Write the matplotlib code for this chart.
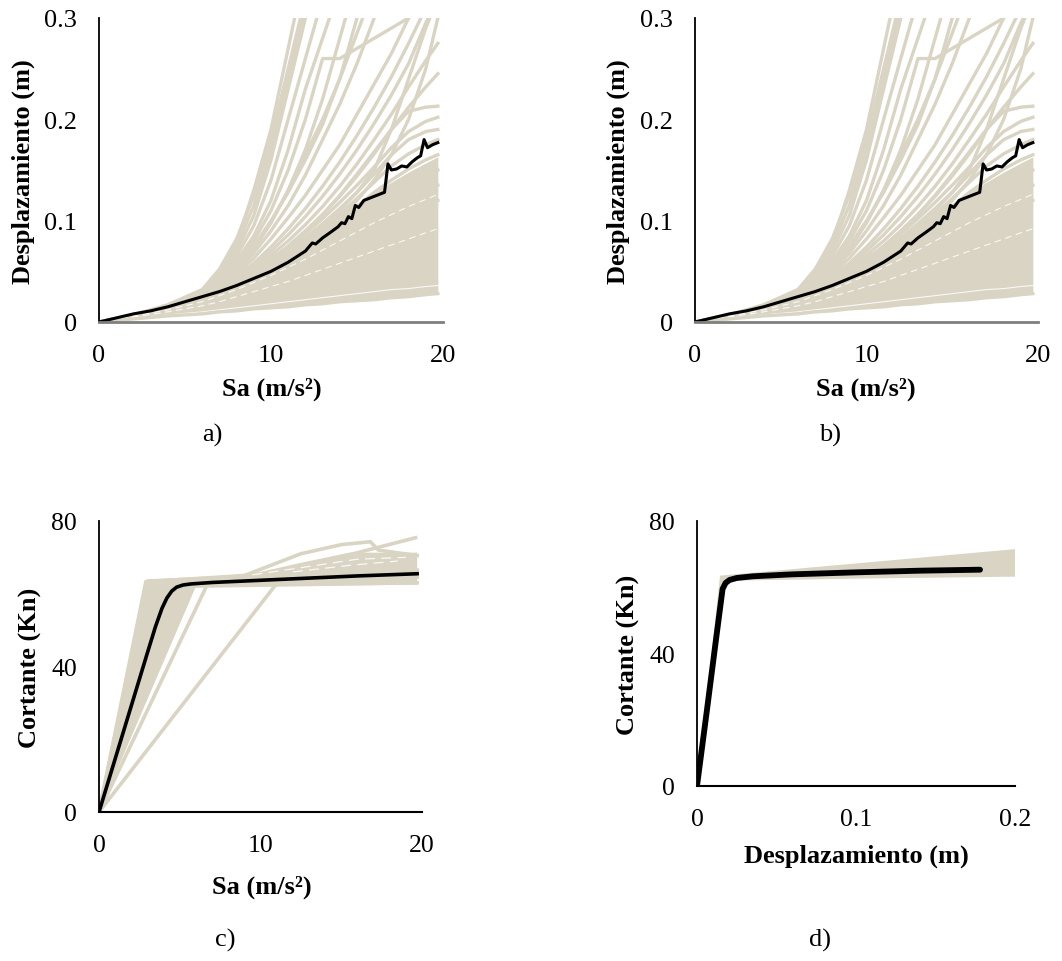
import matplotlib
matplotlib.use("Agg")
import matplotlib.pyplot as plt

plt.rcParams['font.family'] = ['Liberation Serif', 'DejaVu Serif']

BEIGE = '#D9D4C3'

# ---------------- Panels a) and b): Displacement vs Sa ----------------
sa_grid = [0, 2, 4, 6, 7, 8, 9, 10, 11, 12, 13, 14, 15, 16, 17, 18, 19, 19.7]

band_lo = [0, .003, .006, .008, .010, .011, .013, .014, .015, .017, .018, .020, .021, .022, .024, .025, .027, .028]
band_hi = [0, .008, .018, .032, .041, .050, .058, .066, .075, .085, .095, .106, .117, .128, .138, .148, .157, .163]

disp_curves = [
    [0, .007, .016, .030, .050, .078, .130, .190, .270, .350, .420, .500, .550, .600, .650, .700, .750, .800],
    [0, .007, .017, .032, .052, .082, .125, .180, .250, .320, .400, .480, .550, .600, .650, .700, .750, .800],
    [0, .006, .015, .030, .048, .075, .115, .170, .240, .310, .390, .460, .520, .600, .650, .700, .750, .800],
    [0, .006, .015, .028, .045, .070, .105, .160, .230, .300, .380, .450, .520, .600, .650, .700, .750, .800],
    [0, .006, .014, .027, .042, .065, .095, .140, .200, .260, .320, .400, .480, .550, .600, .650, .700, .750],
    [0, .006, .014, .026, .040, .060, .085, .120, .170, .230, .280, .330, .400, .450, .500, .550, .600, .650],
    [0, .006, .013, .025, .038, .056, .080, .110, .150, .200, .260, .260, .270, .280, .290, .300, .320, .330],
    [0, .006, .013, .024, .036, .052, .072, .098, .130, .165, .200, .240, .285, .330, .380, .420, .460, .500],
    [0, .005, .012, .022, .034, .050, .068, .090, .115, .145, .180, .215, .255, .300, .350, .400, .450, .500],
    [0, .005, .012, .022, .033, .047, .063, .082, .103, .125, .150, .175, .205, .235, .265, .300, .340, .360],
    [0, .005, .011, .021, .031, .044, .058, .074, .092, .112, .134, .158, .184, .212, .242, .275, .310, .330],
    [0, .005, .011, .020, .030, .042, .055, .070, .086, .104, .124, .146, .170, .196, .224, .255, .295, .320],
    [0, .005, .011, .020, .030, .041, .053, .066, .080, .096, .114, .134, .156, .180, .205, .232, .258, .275],
    [0, .005, .010, .019, .028, .039, .050, .062, .075, .090, .106, .124, .144, .166, .190, .212, .232, .245],
    [0, .005, .010, .019, .028, .038, .049, .061, .074, .089, .106, .125, .146, .168, .190, .208, .212, .213],
    [0, .005, .010, .018, .027, .037, .048, .060, .073, .087, .102, .118, .135, .153, .172, .188, .198, .202],
    [0, .005, .010, .018, .027, .037, .047, .058, .070, .083, .097, .112, .128, .146, .165, .180, .188, .190],
    [0, .005, .010, .018, .026, .035, .045, .056, .067, .079, .092, .106, .122, .138, .154, .166, .175, .180],
    [0, .005, .010, .018, .026, .035, .045, .056, .068, .081, .095, .110, .128, .150, .190, .240, .290, .320],
    [0, .005, .010, .017, .025, .034, .043, .053, .064, .076, .089, .103, .120, .140, .165, .200, .250, .300],
    [0, .006, .013, .024, .036, .052, .072, .098, .130, .170, .220, .280, .340, .400, .450, .500, .550, .600],
    [0, .006, .013, .024, .037, .054, .075, .100, .128, .160, .195, .240, .300, .350, .400, .450, .500, .550],
    [0, .004, .009, .016, .023, .031, .040, .050, .061, .073, .086, .100, .114, .128, .140, .151, .160, .165],
    [0, .004, .009, .016, .023, .031, .040, .049, .059, .070, .081, .093, .105, .117, .128, .138, .146, .150],
    [0, .004, .008, .015, .021, .028, .036, .045, .054, .064, .075, .086, .097, .108, .118, .127, .132, .135],
    [0, .004, .008, .014, .020, .026, .033, .041, .049, .058, .067, .077, .087, .097, .106, .113, .118, .120],
]

# thin light gaps visible between overlapping curves inside the dense band
gap_curves = [
    [0, .004, .007, .010, .012, .014, .016, .018, .020, .022, .024, .026, .028, .030, .032, .033, .035, .036],
    [0, .005, .010, .016, .020, .025, .030, .035, .040, .046, .052, .058, .064, .070, .076, .082, .088, .092],
    [0, .006, .012, .020, .026, .032, .039, .046, .054, .062, .071, .080, .089, .098, .106, .114, .121, .126],
]

mean_sa = [0, 1, 2, 3, 4, 5, 6, 7, 8, 9, 10, 11, 12, 12.4, 12.6, 13, 13.5, 13.9, 14.1, 14.3, 14.5, 14.7,
           14.9, 15.1, 15.4, 15.7, 16.0, 16.3, 16.6, 16.8, 17.0, 17.3, 17.6, 17.9, 18.2, 18.5, 18.7, 18.9,
           19.1, 19.4, 19.7]
mean_d = [0, .004, .008, .011, .015, .020, .025, .030, .036, .043, .050, .059, .070, .078, .077, .083, .089,
          .094, .098, .097, .104, .102, .115, .113, .120, .122, .124, .126, .128, .156, .150, .151, .154, .153,
          .158, .162, .164, .180, .172, .175, .177]

# ---------------- Panel c): Shear vs Sa ----------------
c_band_sa = [0, 2.84, 5.0, 8.0, 10.0, 12.5, 15.5, 19.7, 19.7, 15.0, 10.0, 6.0, 0]
c_band_v = [0, 63.3, 64.0, 65.0, 66.0, 68.5, 71.3, 71.3, 62.5, 62.3, 62.2, 62.0, 0]

c_lines_sa = [
    [0, 6.7, 19.7],
    [0, 11.0, 19.7],
    [0, 2.9, 9.0, 12.5, 15.0, 16.8, 17.3, 19.7],
    [0, 3.0, 10.5, 19.6],
    [0, 4.5, 19.7],
]
c_lines_v = [
    [0, 62.5, 66.5],
    [0, 62.8, 64.5],
    [0, 63.3, 65.0, 71.0, 73.5, 74.3, 72.0, 70.5],
    [0, 63.5, 65.0, 75.4],
    [0, 62.0, 63.0],
]
c_gap_sa = [[9.5, 13.0, 16.0, 19.0], [12.0, 15.5, 18.5]]
c_gap_v = [[65.2, 67.5, 69.5, 70.0], [66.0, 67.8, 69.0]]

c_mean_sa = [0, 1, 2, 3, 3.5, 3.9, 4.2, 4.5, 4.8, 5.2, 5.7, 7, 10, 13, 16, 19.7]
c_mean_v = [0, 14.6, 29.2, 43.8, 51, 56, 58.8, 60.7, 61.8, 62.4, 62.7, 63.1, 63.7, 64.3, 64.9, 65.5]

# ---------------- Panel d): Shear vs Displacement ----------------
d_band_x = [0, 0.0145, 0.2, 0.2, 0.1, 0.022, 0.0165, 0]
d_band_v = [0, 63.5, 71.5, 63.2, 62.6, 62.0, 59.5, 0]

d_mean_x = [0, 0.006, 0.012, 0.0161, 0.018, 0.0205, 0.025, 0.035, 0.06, 0.1, 0.14, 0.178]
d_mean_v = [0, 22, 44.4, 59.5, 61.3, 62.2, 62.8, 63.3, 63.9, 64.5, 65.0, 65.3]

W, H = 1062, 962
fig = plt.figure(figsize=(W / 100, H / 100), dpi=100)


def px_axes(x0, x1, ytop, ybot):
    return fig.add_axes([x0 / W, 1 - ybot / H, (x1 - x0) / W, (ybot - ytop) / H])


def style(ax, bottom_color='black', bottom_lw=1.5, fs=19):
    for s in ['top', 'right']:
        ax.spines[s].set_visible(False)
    ax.spines['left'].set_color('black')
    ax.spines['left'].set_linewidth(1.3)
    ax.spines['bottom'].set_color(bottom_color)
    ax.spines['bottom'].set_linewidth(bottom_lw)
    ax.tick_params(length=0, labelsize=fs)
    ax.tick_params(axis='y', pad=16)
    ax.tick_params(axis='x', pad=16)


def disp_panel(ax):
    ax.fill_between(sa_grid, band_lo, band_hi, color=BEIGE, lw=0)
    for c in disp_curves:
        ax.plot(sa_grid, c, color=BEIGE, lw=2.4, solid_joinstyle='round')
    for i, g in enumerate(gap_curves):
        ax.plot(sa_grid, g, color='white', lw=0.8, alpha=0.85,
                ls=(0, (6, 4)) if i else '-')
    ax.plot(sa_grid, band_lo, color=BEIGE, lw=2.4)
    ax.plot(mean_sa, mean_d, color='black', lw=2.2)
    ax.set_xlim(0, 20)
    ax.set_ylim(0, 0.3)
    ax.set_xticks([0, 10, 20])
    ax.set_yticks([0, 0.1, 0.2, 0.3])
    ax.set_yticklabels(['0', '0.1', '0.2', '0.3'])
    style(ax, bottom_color='#7f7f7f', bottom_lw=2.0, fs=19)


axa = px_axes(99, 443, 19, 323)
disp_panel(axa)
axb = px_axes(695, 1038, 19, 323)
disp_panel(axb)

axc = px_axes(99, 422, 522, 813)
axc.fill(c_band_sa, c_band_v, color=BEIGE, lw=0)
for xs, vs in zip(c_lines_sa, c_lines_v):
    axc.plot(xs, vs, color=BEIGE, lw=2.6)
for xs, vs in zip(c_gap_sa, c_gap_v):
    axc.plot(xs, vs, color='white', lw=0.9, alpha=0.85, ls=(0, (8, 5)))
axc.plot(c_mean_sa, c_mean_v, color='black', lw=2.6)
axc.set_xlim(0, 20)
axc.set_ylim(0, 80)
axc.set_xticks([0, 10, 20])
axc.set_yticks([0, 40, 80])
style(axc, fs=18.5)

axd = px_axes(697, 1015, 522, 787)
axd.fill(d_band_x, d_band_v, color=BEIGE, lw=0)
axd.plot(d_mean_x, d_mean_v, color='black', lw=4.2, solid_capstyle='round')
axd.set_xlim(0, 0.2)
axd.set_ylim(0, 80)
axd.set_xticks([0, 0.1, 0.2])
axd.set_xticklabels(['0', '0.1', '0.2'])
axd.set_yticks([0, 40, 80])
style(axd, fs=18.5)


def ftext(x, y, s, **kw):
    fig.text(x / W, 1 - y / H, s, ha='center', va='center', **kw)


# axis labels
ftext(272, 389, 'Sa (m/s²)', fontsize=19, fontweight='bold')
ftext(866, 389, 'Sa (m/s²)', fontsize=19, fontweight='bold')
ftext(262, 887, 'Sa (m/s²)', fontsize=19, fontweight='bold')
ftext(856, 856, 'Desplazamiento (m)', fontsize=19, fontweight='bold')
ftext(23, 172, 'Desplazamiento (m)', fontsize=19, fontweight='bold', rotation=90)
ftext(618, 172, 'Desplazamiento (m)', fontsize=19, fontweight='bold', rotation=90)
ftext(30, 668, 'Cortante (Kn)', fontsize=19, fontweight='bold', rotation=90)
ftext(628, 655, 'Cortante (Kn)', fontsize=19, fontweight='bold', rotation=90)

# sub-figure labels
ftext(212, 435, 'a)', fontsize=19)
ftext(830, 435, 'b)', fontsize=19)
ftext(225, 940, 'c)', fontsize=19)
ftext(820, 940, 'd)', fontsize=19)

fig.savefig('out.png', dpi=100)
